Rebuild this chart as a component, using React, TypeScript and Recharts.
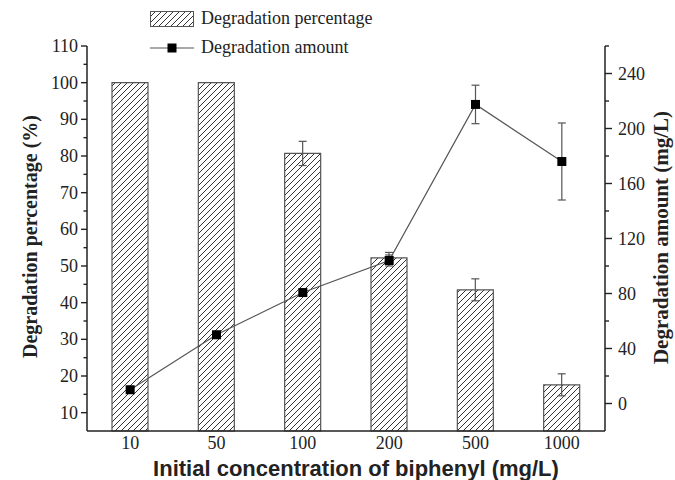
import React from 'react';
import { ComposedChart, Bar, Line, XAxis, YAxis, ErrorBar } from 'recharts';

// values
const concentrations = ['10', '50', '100', '200', '500', '1000'];
const degradationPct = [100, 100, 80.7, 52.2, 43.5, 17.6];
const degradationPctErr = [0, 0, 3.3, 1.5, 3, 3];
const degradationAmt = [10, 50, 80.7, 104, 217.5, 176];
const degradationAmtErr = [0, 0, 0, 4, 14, 28];

const leftTicks = [10, 15, 20, 25, 30, 35, 40, 45, 50, 55, 60, 65, 70, 75, 80, 85, 90, 95, 100, 105, 110];
const leftLabels = [10, 20, 30, 40, 50, 60, 70, 80, 90, 100, 110];
const rightTicks = [0, 20, 40, 60, 80, 100, 120, 140, 160, 180, 200, 220, 240, 260];
const rightLabels = [0, 40, 80, 120, 160, 200, 240];

const data = concentrations.map((name, i) => ({
  name,
  pct: degradationPct[i],
  pctErr: degradationPctErr[i],
  amt: degradationAmt[i],
  amtErr: degradationAmtErr[i],
}));

const serif = '"Liberation Serif", "Times New Roman", serif';
const sans = '"Liberation Sans", Arial, sans-serif';
const ink = '#222';

const LeftTick = ({ x, y, payload }: any) => {
  const major = leftLabels.includes(payload.value);
  return (
    <g>
      <line x1={x} y1={y} x2={x - (major ? 6 : 3.5)} y2={y} stroke={ink} strokeWidth={1.4} />
      {major && (
        <text x={x - 9} y={y} textAnchor="end" dominantBaseline="central" fontSize={18} fontFamily={serif} fill={ink}>
          {payload.value}
        </text>
      )}
    </g>
  );
};

const RightTick = ({ x, y, payload }: any) => {
  const major = rightLabels.includes(payload.value);
  return (
    <g>
      <line x1={x} y1={y} x2={x + (major ? 7 : 4)} y2={y} stroke={ink} strokeWidth={1.4} />
      {major && (
        <text x={x + 13} y={y} textAnchor="start" dominantBaseline="central" fontSize={18} fontFamily={serif} fill={ink}>
          {payload.value}
        </text>
      )}
    </g>
  );
};

const BottomTick = ({ x, y, payload }: any) => (
  <text x={x} y={y + 12} textAnchor="middle" dominantBaseline="central" fontSize={18} fontFamily={serif} fill={ink}>
    {payload.value}
  </text>
);

const SquareDot = (props: any) => {
  const { cx, cy, index } = props;
  return <rect key={index} x={cx - 4.5} y={cy - 4.5} width={9} height={9} fill="#000" />;
};

const leftLabel = ({ viewBox }: any) => {
  const cx = viewBox.x + 30;
  const cy = viewBox.y + viewBox.height / 2 - 2;
  return (
    <text x={cx} y={cy} transform={`rotate(-90 ${cx} ${cy})`} textAnchor="middle" dominantBaseline="central"
      fontSize={20} fontWeight="bold" fontFamily={serif} fill={ink}>
      Degradation percentage (%)
    </text>
  );
};

const rightLabel = ({ viewBox }: any) => {
  const cx = viewBox.x + 56;
  const cy = viewBox.y + viewBox.height / 2 - 1;
  return (
    <text x={cx} y={cy} transform={`rotate(-90 ${cx} ${cy})`} textAnchor="middle" dominantBaseline="central"
      fontSize={21} fontWeight="bold" fontFamily={serif} fill={ink}>
      Degradation amount (mg/L)
    </text>
  );
};

const bottomLabel = ({ viewBox }: any) => (
  <text x={viewBox.x + viewBox.width / 2 + 10} y={viewBox.y + 37} textAnchor="middle" dominantBaseline="central"
    fontSize={22} fontWeight="bold" fontFamily={sans} fill={ink}>
    Initial concentration of biphenyl (mg/L)
  </text>
);

function ChartLegend() {
  return (
    <div style={{ position: 'absolute', left: 150, top: 4, fontFamily: serif, fontSize: 18, color: ink, lineHeight: '29px' }}>
      <div style={{ display: 'flex', alignItems: 'center' }}>
        <svg width={44} height={16} style={{ marginRight: 7 }}>
          <rect x={0.5} y={0.5} width={43} height={15} fill="url(#hatch)" stroke="#555" />
        </svg>
        <span>Degradation percentage</span>
      </div>
      <div style={{ display: 'flex', alignItems: 'center' }}>
        <svg width={44} height={16} style={{ marginRight: 7 }}>
          <line x1={0} y1={8} x2={44} y2={8} stroke="#555" strokeWidth={1.2} />
          <rect x={17.5} y={3.5} width={9} height={9} fill="#000" />
        </svg>
        <span>Degradation amount</span>
      </div>
    </div>
  );
}

export default function App() {
  return (
    <div style={{ position: 'absolute', left: 0, top: 0, width: 675, height: 480, background: '#fff' }}>
      <svg width={0} height={0} style={{ position: 'absolute' }}>
        <defs>
          <pattern id="hatch" patternUnits="userSpaceOnUse" width={6} height={6}>
            <path d="M0,6 L6,0 M-1,1 L1,-1 M5,7 L7,5" stroke="#333" strokeWidth={1} />
          </pattern>
        </defs>
      </svg>
      <ComposedChart width={675} height={480} data={data} margin={{ top: 46, right: 0, bottom: 0, left: 0 }}>
        <XAxis
          dataKey="name"
          height={49}
          tickLine={false}
          tickSize={0}
          tickMargin={0}
          tick={<BottomTick />}
          axisLine={{ stroke: ink, strokeWidth: 1.5 }}
          label={bottomLabel}
        />
        <YAxis
          yAxisId="left"
          orientation="left"
          width={87}
          domain={[5, 110]}
          ticks={leftTicks}
          interval={0}
          tickLine={false}
          tickSize={0}
          tickMargin={0}
          tick={<LeftTick />}
          axisLine={{ stroke: ink, strokeWidth: 1.5 }}
          label={leftLabel}
        />
        <YAxis
          yAxisId="right"
          orientation="right"
          width={70}
          domain={[-20, 260]}
          ticks={rightTicks}
          interval={0}
          tickLine={false}
          tickSize={0}
          tickMargin={0}
          tick={<RightTick />}
          axisLine={{ stroke: ink, strokeWidth: 1.5 }}
          label={rightLabel}
        />
        <Bar yAxisId="left" dataKey="pct" barSize={36} fill="url(#hatch)" stroke="#555" strokeWidth={1.2} isAnimationActive={false}>
          <ErrorBar dataKey="pctErr" width={4} stroke="#555" strokeWidth={1.2} />
        </Bar>
        <Line
          yAxisId="right"
          dataKey="amt"
          type="linear"
          stroke="#555"
          strokeWidth={1.2}
          dot={SquareDot}
          activeDot={false}
          isAnimationActive={false}
        >
          <ErrorBar dataKey="amtErr" width={4} stroke="#555" strokeWidth={1.2} />
        </Line>
      </ComposedChart>
      <ChartLegend />
    </div>
  );
}
